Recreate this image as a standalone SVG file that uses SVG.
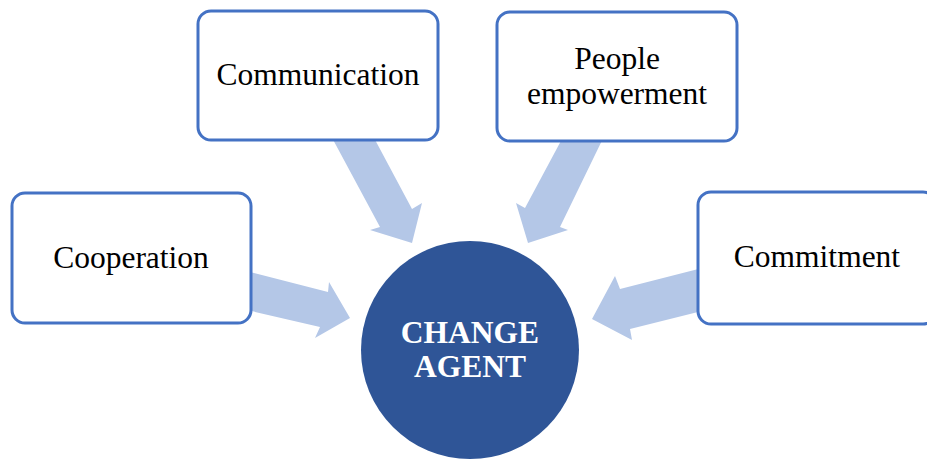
<svg xmlns="http://www.w3.org/2000/svg" width="927" height="459" viewBox="0 0 927 459">
  <style>
    .box { fill: #ffffff; stroke: #4472C4; stroke-width: 3; }
    .lbl { font-family: "Liberation Serif", "Times New Roman", serif; font-size: 31.5px; fill: #000000; text-anchor: middle; }
    .hub { fill: #2F5597; }
    .hubtxt { font-family: "Liberation Serif", "Times New Roman", serif; font-size: 31.5px; font-weight: bold; fill: #ffffff; text-anchor: middle; }
    .arrow { fill: #B4C7E7; }
  </style>

  <!-- block arrows pointing into the hub -->
  <g id="connectors">
    <polygon class="arrow" points="323,121 380,227 370,230 412,243 422,203 412,209 365,121"/>
    <polygon class="arrow" points="570,124 525,208 516,203 528,243 568,230 560,227 610,124"/>
    <polygon class="arrow" points="234,268 328,292 329,282 350,318 315,338 320,327 234,307"/>
    <polygon class="arrow" points="714,265 620,289 615,276 592,319 632,340 630,329 714,308"/>
  </g>

  <g id="communication">
    <rect class="box" x="198" y="11" width="240" height="129" rx="13"/>
    <text class="lbl" x="318" y="85">Communication</text>
  </g>

  <g id="people-empowerment">
    <rect class="box" x="497" y="12" width="240" height="129" rx="13"/>
    <text class="lbl" x="617" y="69">People</text>
    <text class="lbl" x="617" y="104">empowerment</text>
  </g>

  <g id="cooperation">
    <rect class="box" x="12" y="193" width="239" height="130" rx="13"/>
    <text class="lbl" x="131" y="268">Cooperation</text>
  </g>

  <g id="commitment">
    <rect class="box" x="698" y="192" width="238" height="132" rx="13"/>
    <text class="lbl" x="817" y="267">Commitment</text>
  </g>

  <g id="change-agent">
    <circle class="hub" cx="470" cy="350" r="109"/>
    <text class="hubtxt" x="470" y="343">CHANGE</text>
    <text class="hubtxt" x="470" y="377">AGENT</text>
  </g>
</svg>
